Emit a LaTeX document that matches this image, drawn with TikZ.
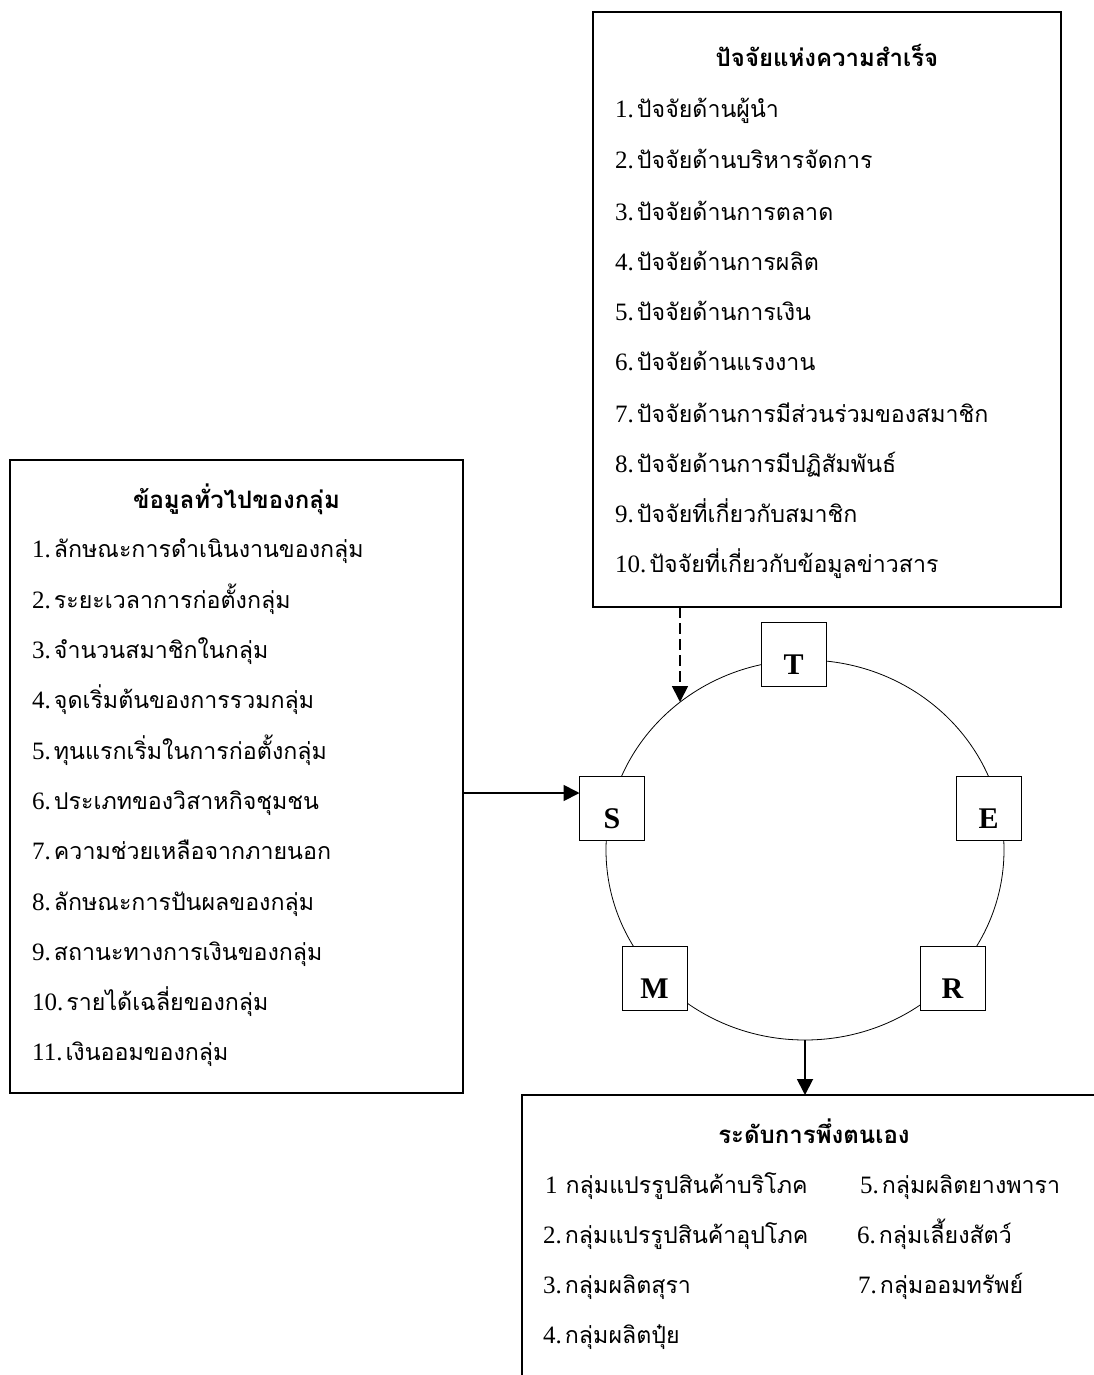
\documentclass[tikz,border=0pt]{standalone}
\usepackage{fontspec}
\setmainfont{Liberation Serif}
\newfontfamily\thai[Script=Thai]{Loma}
\usetikzlibrary{arrows.meta,shapes.geometric,calc}
\newcommand\thsz{23.2}
\newcommand\itm[2]{{\fontsize{25}{30}\selectfont #1}\hspace{3pt}{\thai\fontsize{\thsz}{30}\selectfont #2}}
\begin{document}
\begin{tikzpicture}[x=1pt,y=-1pt,
  bigbox/.style={draw, line width=1.3pt, inner sep=0pt, outer sep=0pt},
  letterbox/.style={draw, fill=white, line width=1pt, minimum width=65pt, minimum height=64pt, inner sep=0pt, outer sep=0pt},
  letter/.style={anchor=base, inner sep=0pt, font=\fontsize{30}{34}\selectfont\bfseries},
  itemtxt/.style={anchor=base west, inner sep=0pt},
  ttl/.style={anchor=base, inner sep=0pt, font=\thai\bfseries\fontsize{24}{28}\selectfont},
  arr/.style={-{Triangle[length=16pt,width=16pt]}, line width=1.8pt}]
\clip (0,0) rectangle (1094,1375);
\fill[white] (0,0) rectangle (1094,1375);

% big boxes
\node[bigbox, minimum width=468pt, minimum height=595pt] (factors) at (827,309.5) {};
\node[bigbox, minimum width=453pt, minimum height=633pt] (general) at (236.5,776.5) {};
\node[bigbox, minimum width=600pt, minimum height=320pt] (results) at (822,1255) {};

% top box text
\node[ttl] (ft) at (827,67) {ปัจจัยแห่งความสำเร็จ};
\node[itemtxt] (f1) at (615,118) {\itm{1.}{ปัจจัยด้านผู้นำ}};
\node[itemtxt] (f2) at (615,168) {\itm{2.}{ปัจจัยด้านบริหารจัดการ}};
\node[itemtxt] (f3) at (615,220) {\itm{3.}{ปัจจัยด้านการตลาด}};
\node[itemtxt] (f4) at (615,270) {\itm{4.}{ปัจจัยด้านการผลิต}};
\node[itemtxt] (f5) at (615,320) {\itm{5.}{ปัจจัยด้านการเงิน}};
\node[itemtxt] (f6) at (615,370) {\itm{6.}{ปัจจัยด้านแรงงาน}};
\node[itemtxt] (f7) at (615,422) {\itm{7.}{ปัจจัยด้านการมีส่วนร่วมของสมาชิก}};
\node[itemtxt] (f8) at (615,472) {\itm{8.}{ปัจจัยด้านการมีปฏิสัมพันธ์}};
\node[itemtxt] (f9) at (615,522) {\itm{9.}{ปัจจัยที่เกี่ยวกับสมาชิก}};
\node[itemtxt] (f10) at (615,572) {\itm{10.}{ปัจจัยที่เกี่ยวกับข้อมูลข่าวสาร}};

% left box text
\node[ttl] (gt) at (236.5,508) {ข้อมูลทั่วไปของกลุ่ม};
\node[itemtxt] (g1) at (32,557) {\itm{1.}{ลักษณะการดำเนินงานของกลุ่ม}};
\node[itemtxt] (g2) at (32,608) {\itm{2.}{ระยะเวลาการก่อตั้งกลุ่ม}};
\node[itemtxt] (g3) at (32,658) {\itm{3.}{จำนวนสมาชิกในกลุ่ม}};
\node[itemtxt] (g4) at (32,708) {\itm{4.}{จุดเริ่มต้นของการรวมกลุ่ม}};
\node[itemtxt] (g5) at (32,759) {\itm{5.}{ทุนแรกเริ่มในการก่อตั้งกลุ่ม}};
\node[itemtxt] (g6) at (32,809) {\itm{6.}{ประเภทของวิสาหกิจชุมชน}};
\node[itemtxt] (g7) at (32,859) {\itm{7.}{ความช่วยเหลือจากภายนอก}};
\node[itemtxt] (g8) at (32,910) {\itm{8.}{ลักษณะการปันผลของกลุ่ม}};
\node[itemtxt] (g9) at (32,960) {\itm{9.}{สถานะทางการเงินของกลุ่ม}};
\node[itemtxt] (g10) at (32,1010) {\itm{10.}{รายได้เฉลี่ยของกลุ่ม}};
\node[itemtxt] (g11) at (32,1060) {\itm{11.}{เงินออมของกลุ่ม}};

% bottom box text
\node[ttl] (rt) at (814,1143) {ระดับการพึ่งตนเอง};
\node[itemtxt] (r1) at (545,1193) {\itm{1\hspace{5pt}}{กลุ่มแปรรูปสินค้าบริโภค}};
\node[itemtxt] (r2) at (543,1243) {\itm{2.}{กลุ่มแปรรูปสินค้าอุปโภค}};
\node[itemtxt] (r3) at (543,1293) {\itm{3.}{กลุ่มผลิตสุรา}};
\node[itemtxt] (r4) at (543,1343) {\itm{4.}{กลุ่มผลิตปุ๋ย}};
\node[itemtxt] (r5) at (860,1193) {\itm{5.}{กลุ่มผลิตยางพารา}};
\node[itemtxt] (r6) at (857,1243) {\itm{6.}{กลุ่มเลี้ยงสัตว์}};
\node[itemtxt] (r7) at (858,1293) {\itm{7.}{กลุ่มออมทรัพย์}};

% ring
\node[draw, ellipse, line width=0.8pt, minimum width=398pt, minimum height=380pt, inner sep=0pt, outer sep=0pt] (ring) at (805,850) {};

% letter boxes
\node[letterbox] (T) at (793.5,654.5) {};
\node[letterbox] (S) at (612,808.5) {};
\node[letterbox] (E) at (988.5,808.5) {};
\node[letterbox] (M) at (654.5,978.5) {};
\node[letterbox] (R) at (952.5,978.5) {};
\node[letter] (Tl) at ($(T.center)+(0,20)$) {T};
\node[letter] (Sl) at ($(S.center)+(0,20)$) {S};
\node[letter] (El) at ($(E.center)+(0,20)$) {E};
\node[letter] (Ml) at ($(M.center)+(0,20)$) {M};
\node[letter] (Rl) at ($(R.center)+(0,20)$) {R};

% connectors
\coordinate (dtip) at (680,702);
\draw[arr, dash pattern=on 11pt off 5pt] (factors.south -| dtip) -- (dtip);
\draw[arr] (general.east |- 0,793) -- (S.west |- 0,793);
\draw[arr] (ring.south) -- (ring.south |- results.north);
\end{tikzpicture}
\end{document}
